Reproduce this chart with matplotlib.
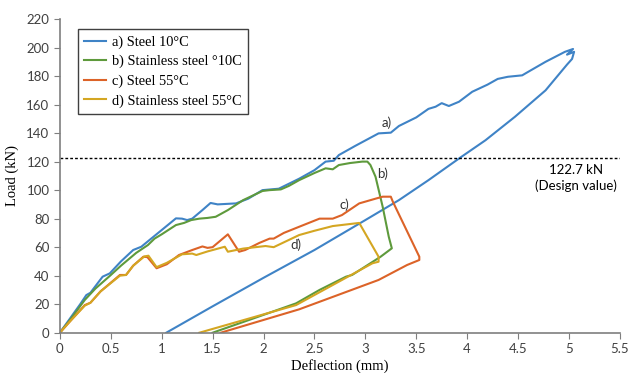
import matplotlib
matplotlib.use('Agg')
import matplotlib.pyplot as plt

# a) Steel 10°C
steel10_x = [0, 0.1, 0.2, 0.26, 0.3, 0.42, 0.49, 0.6, 0.72, 0.8, 0.88, 1.0, 1.14, 1.2, 1.25, 1.3,
             1.4, 1.48, 1.55, 1.73, 1.85, 1.99, 2.15, 2.35, 2.5, 2.61, 2.69, 2.74, 2.9, 3.13, 3.25,
             3.33, 3.5, 3.62, 3.69, 3.75, 3.82, 3.92, 4.05, 4.2, 4.3, 4.4, 4.54, 4.6, 4.77, 4.96,
             5.04, 4.98, 5.05, 5.03, 4.98, 4.77, 4.47, 4.18, 3.93, 3.62, 3.33, 3.0, 2.5, 2.0, 1.5, 1.045]
steel10_y = [0, 10, 20, 26.4, 28, 39.3, 41.6, 50, 58, 60.3, 65, 72, 80.2, 80, 79, 80,
             86, 91, 90, 90.7, 94, 100, 101, 108, 114, 120, 120.6, 124.6, 131, 139.8, 140.3,
             145, 151, 157, 158.5, 161, 159, 162, 169, 174, 178, 179.5, 180.5, 183, 190, 197,
             199, 195, 197, 192, 188, 170, 151.5, 135, 122.7, 107, 93, 79, 58, 38.5, 18.5, 0]

# b) Stainless steel 10°C
stainless10_x = [0, 0.1, 0.245, 0.35, 0.49, 0.6, 0.75, 0.865, 0.93, 1.0, 1.14, 1.22, 1.29, 1.37,
                 1.45, 1.53, 1.65, 1.8, 1.99, 2.06, 2.17, 2.25, 2.35, 2.5, 2.61, 2.68, 2.74, 2.85,
                 2.97, 3.02, 3.05, 3.10, 3.17, 3.23, 3.26, 3.15, 2.87, 2.81, 2.55, 2.32, 1.9, 1.5]
stainless10_y = [0, 9, 23, 31, 39.8, 47, 56, 61.5, 66, 69, 75.5, 77, 79, 80,
                 80.5, 81.3, 86, 93, 99.4, 100, 100.5, 103, 107, 112, 115.3, 114.6, 117.6, 119,
                 120, 120, 117.6, 109.4, 88.4, 67.3, 59.2, 53.3, 40.5, 39.3, 30, 20.6, 10, 0]

# c) Steel 55°C
steel55_x = [0, 0.1, 0.245, 0.3, 0.4, 0.59, 0.65, 0.72, 0.82, 0.86, 0.95, 1.05, 1.17, 1.3, 1.4,
             1.45, 1.5, 1.65, 1.76, 1.82, 1.96, 2.06, 2.1, 2.2, 2.35, 2.55, 2.68, 2.77, 2.94, 3.10,
             3.17, 3.25, 3.27, 3.53, 3.53, 3.41, 3.13, 2.35, 1.58]
steel55_y = [0, 8, 19.4, 21, 29, 40.5, 40.5, 47, 53.3, 53, 45.2, 48, 54.5, 58, 60.5,
             59.5, 60, 69, 56.8, 58, 63, 66, 66, 70, 74.3, 80, 80, 82.5, 90.7, 94,
             95.4, 95.4, 91.9, 53.3, 51, 47.5, 37, 16.4, 0]

# d) Stainless steel 55°C
stainless55_x = [0, 0.1, 0.245, 0.3, 0.4, 0.59, 0.65, 0.72, 0.83, 0.87, 0.95, 1.05, 1.2, 1.3, 1.34,
                 1.45, 1.62, 1.65, 1.8, 2.02, 2.1, 2.35, 2.5, 2.68, 2.94, 3.13, 3.13, 3.07, 2.32, 1.37]
stainless55_y = [0, 8, 19, 21, 29, 40, 40.5, 47, 53.5, 54, 46, 49, 55, 55.5, 54.5,
                 57, 60.3, 56.8, 59, 60.8, 60, 68.5, 71.5, 74.8, 77, 53.3, 49.8, 48.7, 19.4, 0]

labels = ['a) Steel 10°C', 'b) Stainless steel °10C', 'c) Steel 55°C', 'd) Stainless steel 55°C']
colors = ['#3f83c6', '#5e9a3c', '#dc6328', '#d4a622']
design_load = 122.7

fig = plt.figure(figsize=(6.3, 3.73), dpi=100)
ax = fig.add_axes([0.095, 0.108, 0.889, 0.841])

series = [(steel10_x, steel10_y), (stainless10_x, stainless10_y),
          (steel55_x, steel55_y), (stainless55_x, stainless55_y)]
for (xs, ys), lab, col in zip(series, labels, colors):
    ax.plot(xs, ys, color=col, lw=1.5, label=lab)

ax.axhline(design_load, color='black', lw=1, linestyle=(0, (2, 1.5)))
ax.text(5.07, 114, '122.7 kN', ha='center', va='center', fontsize=9.5, family='Lato')
ax.text(5.07, 103, '(Design value)', ha='center', va='center', fontsize=9.5, family='Lato')

for txt, x, y in [('a)', 3.21, 147.3), ('b)', 3.17, 111.8), ('c)', 2.79, 90), ('d)', 2.32, 61.5)]:
    ax.text(x, y, txt, ha='center', va='center', fontsize=9.5, family='Lato', color='#333333')

ax.set_xlim(0, 5.5)
ax.set_ylim(0, 220)
ax.set_xticks([0, 0.5, 1, 1.5, 2, 2.5, 3, 3.5, 4, 4.5, 5, 5.5])
ax.set_xticklabels(['0', '0.5', '1', '1.5', '2', '2.5', '3', '3.5', '4', '4.5', '5', '5.5'])
ax.set_yticks(range(0, 221, 20))
for s in ['top', 'right']:
    ax.spines[s].set_visible(False)
for s in ['left', 'bottom']:
    ax.spines[s].set_color('#7f7f7f')
    ax.spines[s].set_linewidth(1.2)
ax.tick_params(direction='out', length=4, color='#7f7f7f', labelsize=9.5, labelcolor='#404040')
for t in ax.get_xticklabels() + ax.get_yticklabels():
    t.set_family('Lato')

ax.set_ylabel('Load (kN)', family='Liberation Serif', fontsize=10.5, labelpad=5)
ax.set_xlabel('Deflection (mm)', family='Liberation Serif', fontsize=10.5, labelpad=3)

leg = ax.legend(loc='upper left', bbox_to_anchor=(0.032, 0.967), borderaxespad=0,
                prop={'family': 'Liberation Serif', 'size': 10.4}, fancybox=False,
                edgecolor='#404040', framealpha=1, handlelength=1.5, handletextpad=0.45,
                labelspacing=0.42, borderpad=0.42)
leg.get_frame().set_linewidth(1.0)

fig.savefig('out.png', dpi=100)
